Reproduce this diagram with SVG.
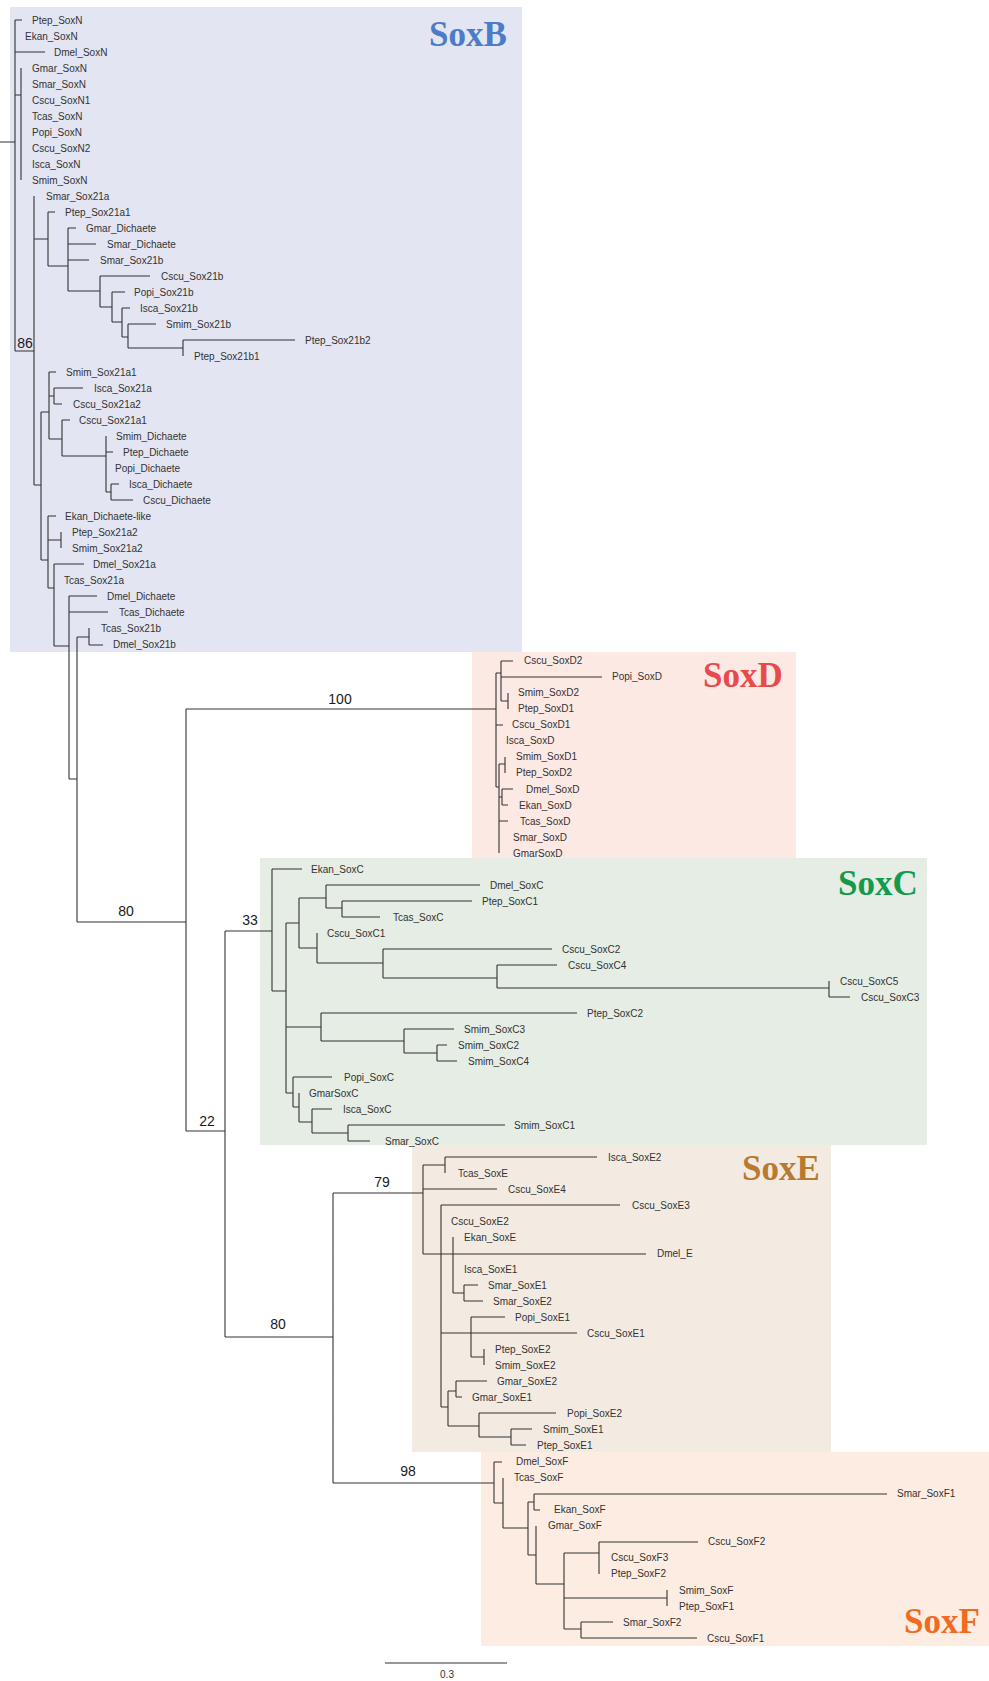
<svg xmlns="http://www.w3.org/2000/svg" width="989" height="1681" viewBox="0 0 989 1681">
<style>
.t{font-family:"Liberation Sans",Arial,sans-serif;font-size:10px;fill:#333}
.b{font-family:"Liberation Sans",Arial,sans-serif;font-size:14px;fill:#1a1a1a;text-anchor:middle}
.c{font-family:"Liberation Serif","Times New Roman",serif;font-size:35px;font-weight:bold}
.ln{fill:none;stroke:#333;stroke-width:1.1}
</style>
<rect width="989" height="1681" fill="#fff"/>
<g id="clade-boxes">
<rect x="10" y="7" width="512" height="645" fill="#e3e5f2"/>
<rect x="472" y="652" width="324" height="206" fill="#fde9e4"/>
<rect x="412" y="1145" width="419" height="307" fill="#f3ebe1"/>
<rect x="260" y="858" width="667" height="287" fill="#e5ede4"/>
<rect x="481" y="1452" width="508" height="194" fill="#fdece2"/>
</g>
<g id="clade-labels">
<text class="c" x="429" y="46" fill="#4a7cc9">SoxB</text>
<text class="c" x="703" y="687" fill="#e84a4b">SoxD</text>
<text class="c" x="838" y="895" fill="#159a4c">SoxC</text>
<text class="c" x="742" y="1180" fill="#b97a30">SoxE</text>
<text class="c" x="904" y="1633" fill="#f06a22">SoxF</text>
</g>
<g id="connectors">
<path class="ln" d="M0 142H15M15 20V351M15 20H22M15 52H45M15 95H21M21 68V180M15 351H34M34 196V485M34 239H48M48 212V266M48 212H55M48 266H68M68 228V291M68 228H76M68 244H96M68 260H89M68 291H100M100 276V307M100 276H150M100 307H112M112 292V322M112 292H125M112 322H122M122 308V337M122 308H130M122 337H128M128 324V348M128 324H156M128 348H183M183 340V356M183 340H295M34 485H41M41 412V560M41 412H49M49 372V439M49 372H56M49 396H54M54 388V404M54 388H83M54 404H62M49 439H62M62 420V456M62 420H70M62 456H106M106 436V492M106 452H113M106 492H111M111 484V500M111 484H119M111 500H133M41 560H48M48 516V588M48 516H56M48 540H61M61 532V548M48 588H54M54 564V646M54 564H84M54 646H69M69 596V779M69 596H97M69 612H108M69 779H77M77 637V922M77 637H89M89 628V645M89 645H103M77 922H186M186 709V1131"/>
<path class="ln" d="M186 709H496M496 673V787M496 673H501M501 661V701M501 661H513M501 677H602M501 701H508M508 693V709M496 725H503M496 787H499M499 764V853M499 764H505M505 757V773M499 797H502M502 789V805M502 789H513M502 805H508M499 821H508"/>
<path class="ln" d="M186 1131H225M225 931V1337M225 931H272M272 869V991M272 869H302M272 991H286M286 923V1093M286 923H299M299 898V948M299 898H326M326 885V908M326 885H480M326 908H342M342 901V917M342 901H472M342 917H380M299 948H317M317 933V963M317 963H383M383 949V978M383 949H552M383 978H497M497 965V988M497 965H557M829 981V997M829 997H850M286 1027H321M321 1013V1041M321 1013H577M321 1041H404M404 1029V1053M404 1029H454M404 1053H437M437 1045V1061M437 1045H447M437 1061H457M286 1093H293M293 1077V1107M293 1077H332M293 1107H299M299 1093V1122M299 1122H312M312 1109V1133M312 1109H332M312 1133H348M348 1125V1141M348 1125H505M348 1141H370"/>
<path class="ln" d="M497 988H829" stroke-width="2"/>
<path class="ln" d="M225 1337H333M333 1193V1483M333 1193H423M423 1165V1254M423 1165H445M445 1157V1173M445 1157H597M423 1189H497M423 1254H646M441 1205V1407M441 1205H620M453 1237V1293M453 1293H464M464 1285V1301M464 1285H478M464 1301H483M441 1333H471M471 1317V1357M471 1317H505M471 1333H577M471 1357H484M484 1349V1365M441 1407H448M448 1391V1426M448 1391H456M456 1381V1397M456 1381H487M456 1397H462M448 1426H479M479 1413V1437M479 1413H556M479 1437H511M511 1429V1445M511 1429H532M511 1445H526"/>
<path class="ln" d="M333 1483H494M494 1462V1503M494 1462H502M494 1503H503M503 1478V1528M503 1528H528M528 1502V1555M528 1502H534M534 1494V1510M534 1494H887M534 1510H540M528 1555H536M536 1526V1584M536 1584H564M564 1553V1629M564 1553H599M599 1542V1574M599 1542H698M564 1598H667M667 1590V1606M564 1629H581M581 1622V1638M581 1622H613M581 1638H697"/>
</g>
<g id="support-values">
<text class="b" x="25" y="348">86</text>
<text class="b" x="340" y="704">100</text>
<text class="b" x="126" y="916">80</text>
<text class="b" x="250" y="925">33</text>
<text class="b" x="207" y="1126">22</text>
<text class="b" x="382" y="1187">79</text>
<text class="b" x="278" y="1329">80</text>
<text class="b" x="408" y="1476">98</text>
</g>
<g id="SoxB">
<text class="t" id="Ptep_SoxN" x="32" y="23.5">Ptep_SoxN</text>
<text class="t" id="Ekan_SoxN" x="25" y="39.5">Ekan_SoxN</text>
<text class="t" id="Dmel_SoxN" x="54" y="55.5">Dmel_SoxN</text>
<text class="t" id="Gmar_SoxN" x="32" y="71.6">Gmar_SoxN</text>
<text class="t" id="Smar_SoxN" x="32" y="87.6">Smar_SoxN</text>
<text class="t" id="Cscu_SoxN1" x="32" y="103.6">Cscu_SoxN1</text>
<text class="t" id="Tcas_SoxN" x="32" y="119.6">Tcas_SoxN</text>
<text class="t" id="Popi_SoxN" x="32" y="135.6">Popi_SoxN</text>
<text class="t" id="Cscu_SoxN2" x="32" y="151.7">Cscu_SoxN2</text>
<text class="t" id="Isca_SoxN" x="32" y="167.7">Isca_SoxN</text>
<text class="t" id="Smim_SoxN" x="32" y="183.7">Smim_SoxN</text>
<text class="t" id="Smar_Sox21a" x="46" y="199.7">Smar_Sox21a</text>
<text class="t" id="Ptep_Sox21a1" x="65" y="215.7">Ptep_Sox21a1</text>
<text class="t" id="Gmar_Dichaete" x="86" y="231.8">Gmar_Dichaete</text>
<text class="t" id="Smar_Dichaete" x="107" y="247.8">Smar_Dichaete</text>
<text class="t" id="Smar_Sox21b" x="100" y="263.8">Smar_Sox21b</text>
<text class="t" id="Cscu_Sox21b" x="161" y="279.8">Cscu_Sox21b</text>
<text class="t" id="Popi_Sox21b" x="134" y="295.8">Popi_Sox21b</text>
<text class="t" id="Isca_Sox21b" x="140" y="311.9">Isca_Sox21b</text>
<text class="t" id="Smim_Sox21b" x="166" y="327.9">Smim_Sox21b</text>
<text class="t" id="Ptep_Sox21b2" x="305" y="343.9">Ptep_Sox21b2</text>
<text class="t" id="Ptep_Sox21b1" x="194" y="359.9">Ptep_Sox21b1</text>
<text class="t" id="Smim_Sox21a1" x="66" y="375.9">Smim_Sox21a1</text>
<text class="t" id="Isca_Sox21a" x="94" y="392">Isca_Sox21a</text>
<text class="t" id="Cscu_Sox21a2" x="73" y="408">Cscu_Sox21a2</text>
<text class="t" id="Cscu_Sox21a1" x="79" y="424">Cscu_Sox21a1</text>
<text class="t" id="Smim_Dichaete" x="116" y="440">Smim_Dichaete</text>
<text class="t" id="Ptep_Dichaete" x="123" y="456">Ptep_Dichaete</text>
<text class="t" id="Popi_Dichaete" x="115" y="472.1">Popi_Dichaete</text>
<text class="t" id="Isca_Dichaete" x="129" y="488.1">Isca_Dichaete</text>
<text class="t" id="Cscu_Dichaete" x="143" y="504.1">Cscu_Dichaete</text>
<text class="t" id="Ekan_Dichaete-like" x="65" y="520.1">Ekan_Dichaete-like</text>
<text class="t" id="Ptep_Sox21a2" x="72" y="536.1">Ptep_Sox21a2</text>
<text class="t" id="Smim_Sox21a2" x="72" y="552.2">Smim_Sox21a2</text>
<text class="t" id="Dmel_Sox21a" x="93" y="568.2">Dmel_Sox21a</text>
<text class="t" id="Tcas_Sox21a" x="64" y="584.2">Tcas_Sox21a</text>
<text class="t" id="Dmel_Dichaete" x="107" y="600.2">Dmel_Dichaete</text>
<text class="t" id="Tcas_Dichaete" x="119" y="616.2">Tcas_Dichaete</text>
<text class="t" id="Tcas_Sox21b" x="101" y="632.3">Tcas_Sox21b</text>
<text class="t" id="Dmel_Sox21b" x="113" y="648.3">Dmel_Sox21b</text>
</g>
<g id="SoxD">
<text class="t" id="Cscu_SoxD2" x="524" y="664.3">Cscu_SoxD2</text>
<text class="t" id="Popi_SoxD" x="612" y="680.3">Popi_SoxD</text>
<text class="t" id="Smim_SoxD2" x="518" y="696.3">Smim_SoxD2</text>
<text class="t" id="Ptep_SoxD1" x="518" y="712.4">Ptep_SoxD1</text>
<text class="t" id="Cscu_SoxD1" x="512" y="728.4">Cscu_SoxD1</text>
<text class="t" id="Isca_SoxD" x="506" y="744.4">Isca_SoxD</text>
<text class="t" id="Smim_SoxD1" x="516" y="760.4">Smim_SoxD1</text>
<text class="t" id="Ptep_SoxD2" x="516" y="776.4">Ptep_SoxD2</text>
<text class="t" id="Dmel_SoxD" x="526" y="792.5">Dmel_SoxD</text>
<text class="t" id="Ekan_SoxD" x="519" y="808.5">Ekan_SoxD</text>
<text class="t" id="Tcas_SoxD" x="520" y="824.5">Tcas_SoxD</text>
<text class="t" id="Smar_SoxD" x="513" y="840.5">Smar_SoxD</text>
<text class="t" id="GmarSoxD" x="513" y="856.5">GmarSoxD</text>
</g>
<g id="SoxC">
<text class="t" id="Ekan_SoxC" x="311" y="872.6">Ekan_SoxC</text>
<text class="t" id="Dmel_SoxC" x="490" y="888.6">Dmel_SoxC</text>
<text class="t" id="Ptep_SoxC1" x="482" y="904.6">Ptep_SoxC1</text>
<text class="t" id="Tcas_SoxC" x="393" y="920.6">Tcas_SoxC</text>
<text class="t" id="Cscu_SoxC1" x="327" y="936.6">Cscu_SoxC1</text>
<text class="t" id="Cscu_SoxC2" x="562" y="952.7">Cscu_SoxC2</text>
<text class="t" id="Cscu_SoxC4" x="568" y="968.7">Cscu_SoxC4</text>
<text class="t" id="Cscu_SoxC5" x="840" y="984.7">Cscu_SoxC5</text>
<text class="t" id="Cscu_SoxC3" x="861" y="1000.7">Cscu_SoxC3</text>
<text class="t" id="Ptep_SoxC2" x="587" y="1016.7">Ptep_SoxC2</text>
<text class="t" id="Smim_SoxC3" x="464" y="1032.8">Smim_SoxC3</text>
<text class="t" id="Smim_SoxC2" x="458" y="1048.8">Smim_SoxC2</text>
<text class="t" id="Smim_SoxC4" x="468" y="1064.8">Smim_SoxC4</text>
<text class="t" id="Popi_SoxC" x="344" y="1080.8">Popi_SoxC</text>
<text class="t" id="GmarSoxC" x="309" y="1096.8">GmarSoxC</text>
<text class="t" id="Isca_SoxC" x="343" y="1112.9">Isca_SoxC</text>
<text class="t" id="Smim_SoxC1" x="514" y="1128.9">Smim_SoxC1</text>
<text class="t" id="Smar_SoxC" x="385" y="1144.9">Smar_SoxC</text>
</g>
<g id="SoxE">
<text class="t" id="Isca_SoxE2" x="608" y="1160.9">Isca_SoxE2</text>
<text class="t" id="Tcas_SoxE" x="458" y="1176.9">Tcas_SoxE</text>
<text class="t" id="Cscu_SoxE4" x="508" y="1193">Cscu_SoxE4</text>
<text class="t" id="Cscu_SoxE3" x="632" y="1209">Cscu_SoxE3</text>
<text class="t" id="Cscu_SoxE2" x="451" y="1225">Cscu_SoxE2</text>
<text class="t" id="Ekan_SoxE" x="464" y="1241">Ekan_SoxE</text>
<text class="t" id="Dmel_E" x="657" y="1257">Dmel_E</text>
<text class="t" id="Isca_SoxE1" x="464" y="1273.1">Isca_SoxE1</text>
<text class="t" id="Smar_SoxE1" x="488" y="1289.1">Smar_SoxE1</text>
<text class="t" id="Smar_SoxE2" x="493" y="1305.1">Smar_SoxE2</text>
<text class="t" id="Popi_SoxE1" x="515" y="1321.1">Popi_SoxE1</text>
<text class="t" id="Cscu_SoxE1" x="587" y="1337.1">Cscu_SoxE1</text>
<text class="t" id="Ptep_SoxE2" x="495" y="1353.2">Ptep_SoxE2</text>
<text class="t" id="Smim_SoxE2" x="495" y="1369.2">Smim_SoxE2</text>
<text class="t" id="Gmar_SoxE2" x="497" y="1385.2">Gmar_SoxE2</text>
<text class="t" id="Gmar_SoxE1" x="472" y="1401.2">Gmar_SoxE1</text>
<text class="t" id="Popi_SoxE2" x="567" y="1417.2">Popi_SoxE2</text>
<text class="t" id="Smim_SoxE1" x="543" y="1433.3">Smim_SoxE1</text>
<text class="t" id="Ptep_SoxE1" x="537" y="1449.3">Ptep_SoxE1</text>
</g>
<g id="SoxF">
<text class="t" id="Dmel_SoxF" x="516" y="1465.3">Dmel_SoxF</text>
<text class="t" id="Tcas_SoxF" x="514" y="1481.3">Tcas_SoxF</text>
<text class="t" id="Smar_SoxF1" x="897" y="1497.3">Smar_SoxF1</text>
<text class="t" id="Ekan_SoxF" x="554" y="1513.4">Ekan_SoxF</text>
<text class="t" id="Gmar_SoxF" x="548" y="1529.4">Gmar_SoxF</text>
<text class="t" id="Cscu_SoxF2" x="708" y="1545.4">Cscu_SoxF2</text>
<text class="t" id="Cscu_SoxF3" x="611" y="1561.4">Cscu_SoxF3</text>
<text class="t" id="Ptep_SoxF2" x="611" y="1577.4">Ptep_SoxF2</text>
<text class="t" id="Smim_SoxF" x="679" y="1593.5">Smim_SoxF</text>
<text class="t" id="Ptep_SoxF1" x="679" y="1609.5">Ptep_SoxF1</text>
<text class="t" id="Smar_SoxF2" x="623" y="1625.5">Smar_SoxF2</text>
<text class="t" id="Cscu_SoxF1" x="707" y="1641.5">Cscu_SoxF1</text>
</g>
<g id="scale-bar">
<path class="ln" d="M385 1663H507"/>
<text class="t" x="447" y="1678" text-anchor="middle" font-size="9">0.3</text>
</g>
</svg>
